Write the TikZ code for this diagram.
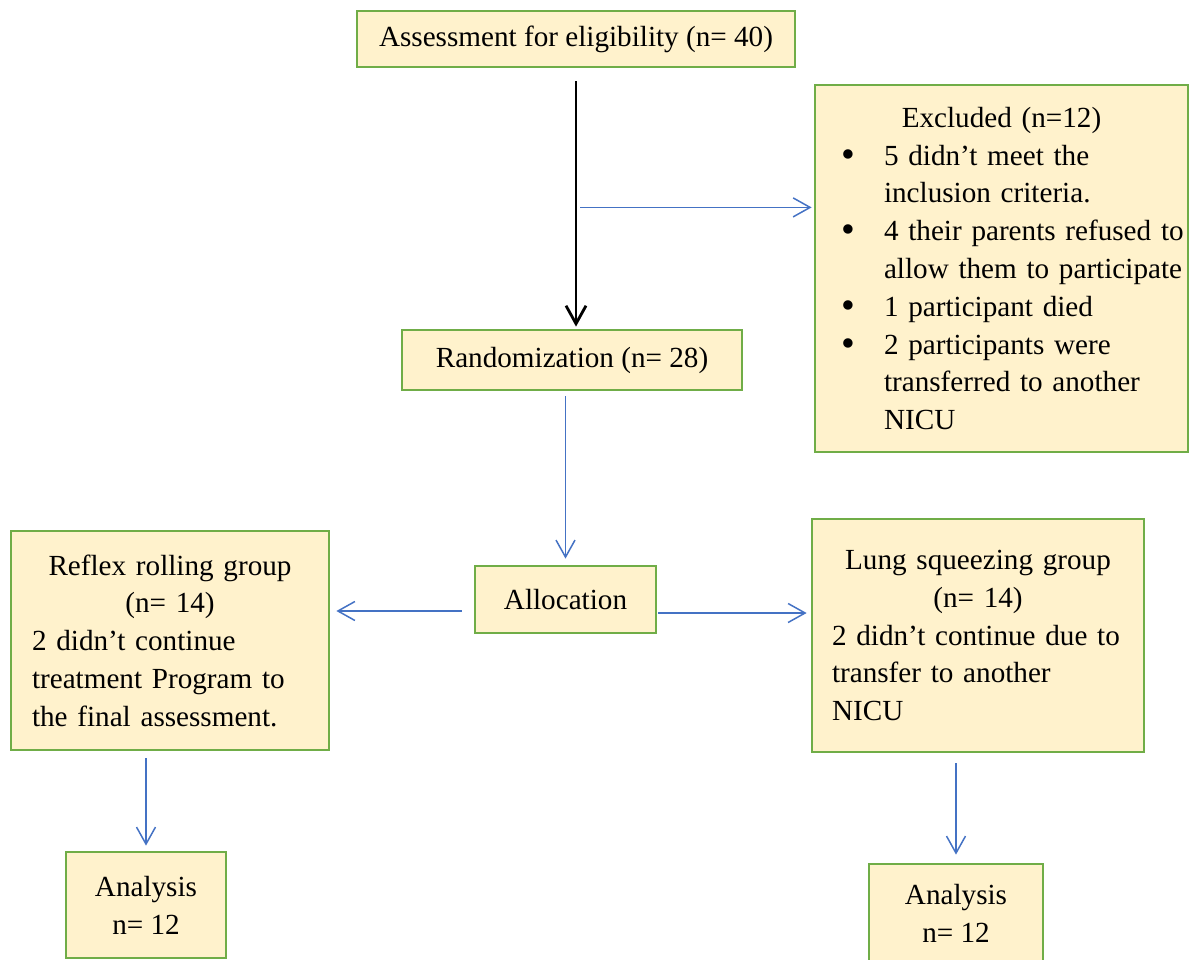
\documentclass[tikz,border=0pt]{standalone}
\usepackage{fontspec}
\setmainfont{Liberation Serif}
\usetikzlibrary{arrows.meta,calc}
\definecolor{boxfill}{HTML}{FFF2CC}
\definecolor{boxline}{HTML}{70AD47}
\definecolor{flowblue}{HTML}{4472C4}
\tikzset{
  box/.style={draw=boxline, fill=boxfill, line width=1.6pt, inner sep=0pt, align=center,
    font=\fontsize{16.6}{21.5}\selectfont},
  bluearrow/.style={draw=flowblue, line width=0.85pt, -{Straight Barb[length=0.34cm,width=0.38cm]}},
  blackarrow/.style={line width=1.6pt, -{Straight Barb[length=0.36cm,width=0.4cm]}}
}
\newcommand\exitem[1]{\par\hangindent=1.3cm\hangafter=1\noindent\makebox[1.3cm][l]{\hspace{0.44cm}\raisebox{-1.2pt}{\scalebox{1.35}{\textbullet}}}#1}

\begin{document}
\begin{tikzpicture}[x=0.02cm,y=-0.02cm]
			%%%%% START %%%%%
			\useasboundingbox (0,0) rectangle (1190,960);
			
			\node[box, minimum width=8.76cm, minimum height=1.12cm] (assess) at (576,39) {Assessment for eligibility (n= 40)};
			\node[box, minimum width=6.8cm, minimum height=1.2cm] (rand) at (572,360) {Randomization (n= 28)};
			\node[box, minimum width=3.62cm, minimum height=1.34cm] (alloc) at (565.5,599.5) {Allocation};
			
			\node[box, text width=7.3cm, inner xsep=0.08cm, minimum height=7.34cm, align=left] (excl) at (1001.5,268.5) {%
				{\centering Excluded (n=12)\par}
				\exitem{5 didn’t meet the\newline inclusion criteria.}
				\exitem{4 their parents refused to\newline allow them to participate}
				\exitem{1 participant died}
				\exitem{2 participants were\newline transferred to another\newline NICU}\par};
			
			\node[box, text width=5.52cm, inner xsep=0.42cm, minimum height=4.38cm, align=left] (reflex) at (170,640.5) {%
				{\centering Reflex rolling group\\(n= 14)\par}
				2 didn’t continue\\treatment Program to\\the final assessment.};
			\node[box, text width=5.84cm, inner xsep=0.4cm, minimum height=4.66cm, align=left] (lung) at (978,635.5) {%
				{\centering Lung squeezing group\\(n= 14)\par}
				2 didn’t continue due to\\transfer to another\\NICU};
			
			\node[box, minimum width=3.2cm, minimum height=2.12cm] (anleft) at (146,905) {Analysis\\n= 12};
			\node[box, minimum width=3.48cm, minimum height=1.96cm] (anright) at (956,913) {Analysis\\n= 12};
			
			% connectors
			\draw[blackarrow, shorten <=0.26cm, shorten >=0.04cm] (assess.south) -- (assess.south |- rand.north);
			\coordinate (split) at ($(assess.south)+(4,139)$);
			\draw[bluearrow, shorten >=0.04cm] (split) -- (split -| excl.west);
			\draw[bluearrow, shorten <=0.1cm, shorten >=0.12cm] (alloc.north |- rand.south) -- (alloc.north);
			\coordinate (alw) at ($(alloc.west)+(0,11.5)$);
			\draw[bluearrow, shorten <=0.24cm, shorten >=0.12cm] (alw) -- (alw -| reflex.east);
			\coordinate (ale) at ($(alloc.east)+(0,13.5)$);
			\draw[bluearrow, shorten <=0.02cm, shorten >=0.08cm] (ale) -- (ale -| lung.west);
			\draw[bluearrow, shorten <=0.14cm, shorten >=0.1cm] (anleft.north |- reflex.south) -- (anleft.north);
			\draw[bluearrow, shorten <=0.2cm, shorten >=0.16cm] (anright.north |- lung.south) -- (anright.north);
			%%%%% END %%%%%
\end{tikzpicture}
\end{document}
